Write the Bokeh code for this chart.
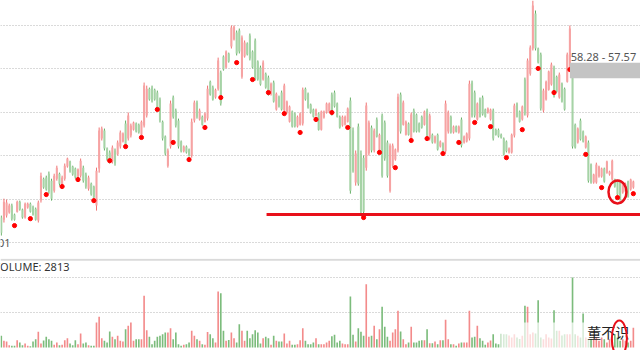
from bokeh.plotting import figure
from bokeh.layouts import column
from bokeh.models import ColumnDataSource, Range1d, FixedTicker, Span
from bokeh.core.properties import value
from bokeh.embed import file_html
from bokeh.resources import INLINE

highs = [51.24,52.02,51.98,51.79,51.79,51.33,51.93,51.93,51.56,51.84,51.84,51.84,51.70,51.61,51.93,53.22,52.99,53.08,53.27,52.94,
53.17,53.54,53.22,53.08,53.64,53.91,53.77,53.54,53.45,53.41,53.87,53.54,53.22,53.08,52.76,52.62,53.45,55.30,55.34,55.25,
54.38,54.24,54.47,54.33,54.70,55.16,55.07,55.62,55.99,55.48,55.57,55.53,55.48,55.62,57.37,57.23,57.14,57.23,57.09,57.00,
56.68,55.62,54.93,54.33,56.54,56.77,56.17,55.71,54.70,54.47,54.47,54.33,55.71,56.54,56.54,56.17,55.85,55.99,57.23,57.46,
57.23,57.09,58.52,57.92,58.62,58.85,58.75,60.00,60.00,59.77,59.86,59.54,59.31,59.22,59.63,58.85,59.40,58.39,58.15,58.39,
57.83,57.69,57.37,57.46,56.91,56.77,57.00,57.32,56.54,56.31,56.08,55.99,55.85,55.99,57.14,57.14,56.91,56.40,56.17,56.17,
55.99,56.08,56.08,56.45,56.45,56.91,57.00,56.45,55.85,55.85,55.85,56.22,56.68,55.30,54.24,55.48,54.24,54.01,56.45,55.62,
55.39,55.25,55.76,55.02,55.94,55.62,54.70,54.56,54.56,54.33,56.86,56.91,56.54,55.62,55.53,55.99,56.17,55.94,55.53,55.85,
56.08,56.17,55.94,55.02,54.93,55.02,54.70,54.61,56.54,56.08,55.85,55.39,55.39,55.39,55.76,54.93,55.07,57.46,57.46,57.00,
56.45,56.68,56.77,56.17,56.22,56.17,56.17,55.25,55.25,55.02,54.84,54.70,54.38,55.02,56.40,56.45,56.08,56.31,57.60,58.48,
59.08,61.15,60.69,58.98,58.75,57.09,57.46,57.92,58.29,58.15,57.69,57.83,57.37,57.14,58.75,60.00,57.92,55.48,55.30,55.71,
55.16,54.93,54.70,53.64,53.17,53.68,53.54,53.45,53.45,53.77,53.31,53.82,52.94,52.85,52.85,52.76,52.76,52.85,52.94,52.85]

lows = [50.32,50.92,51.15,51.33,51.01,51.01,51.38,51.47,51.10,51.10,51.56,51.38,51.24,51.01,50.92,51.84,52.48,52.39,52.25,51.93,
52.30,52.85,52.62,52.48,52.85,53.45,53.22,53.08,52.94,52.85,52.99,52.76,52.48,52.39,52.16,52.02,51.47,53.22,54.70,54.24,
53.77,53.64,53.64,53.54,54.01,54.33,54.61,54.38,54.70,54.84,55.16,55.07,55.02,54.93,55.30,55.76,56.54,56.45,56.54,56.08,
55.53,54.70,54.01,53.45,54.33,55.71,55.30,54.33,54.15,54.15,54.10,53.96,53.91,55.53,55.71,55.62,55.39,55.53,55.62,56.77,
56.54,56.63,57.00,56.31,57.92,58.02,58.29,58.94,59.31,58.62,58.71,57.55,58.52,58.62,58.39,58.02,57.46,57.46,57.23,57.46,
57.09,56.77,56.77,56.45,56.08,56.22,56.08,55.99,55.94,55.53,55.30,55.30,55.30,55.39,55.39,56.54,56.17,55.94,55.76,55.80,
55.16,55.16,55.71,55.94,55.99,55.85,56.22,55.76,55.25,55.34,55.39,55.53,52.25,53.22,52.62,52.62,51.33,51.33,53.31,54.01,
54.15,54.15,54.84,54.10,52.99,53.77,52.99,52.30,53.45,53.77,54.15,55.02,55.39,54.93,54.93,54.70,55.07,55.07,55.07,55.25,
55.39,54.84,54.70,54.56,54.56,54.24,54.38,54.10,54.10,55.02,55.02,55.02,55.07,55.02,54.38,54.56,54.61,54.70,55.76,55.76,
55.62,55.76,55.85,55.76,55.94,55.62,54.70,54.93,54.84,54.79,54.01,54.15,54.10,54.10,54.84,55.76,55.53,55.62,55.85,55.76,
57.69,58.85,58.85,58.25,56.08,55.99,56.54,57.00,57.23,56.68,56.91,56.63,56.45,56.08,57.37,57.92,54.33,54.33,54.56,54.70,
54.61,54.33,52.76,52.71,52.71,52.71,52.99,52.99,52.76,53.17,53.08,52.85,52.53,52.16,51.93,52.25,52.30,52.07,52.39,52.48]

opens = [51.15,51.05,51.24,51.38,51.70,51.29,51.42,51.88,51.52,51.15,51.61,51.79,51.65,51.56,51.01,51.93,52.94,52.99,53.17,52.85,
52.39,52.94,53.17,52.58,52.94,53.50,53.73,53.50,53.41,52.90,53.08,53.45,53.13,52.48,52.71,52.58,51.70,53.41,54.79,55.16,
54.33,54.15,53.73,54.24,54.06,54.42,54.65,55.48,54.79,54.93,55.20,55.48,55.43,54.97,55.39,55.85,57.09,57.14,57.04,56.91,
56.59,55.57,54.88,53.54,54.42,56.68,56.08,55.62,54.65,54.20,54.42,54.29,54.01,55.62,56.45,55.67,55.80,55.57,55.71,57.41,
57.14,56.68,57.09,57.83,58.57,58.06,58.71,59.03,59.36,59.68,59.77,57.64,58.57,59.17,59.54,58.80,59.31,58.34,58.06,57.51,
57.78,57.60,56.82,57.37,56.13,56.72,56.91,56.08,55.99,55.57,56.04,55.94,55.34,55.43,55.48,57.09,56.86,56.36,56.13,55.85,
55.94,55.20,55.76,55.99,56.04,56.82,56.91,56.40,55.80,55.39,55.43,55.57,56.54,55.16,52.76,55.34,54.10,53.91,53.45,54.10,
55.30,54.24,55.67,54.15,55.85,55.53,54.61,52.39,53.54,53.82,54.24,56.82,55.43,54.97,55.48,54.79,56.08,55.90,55.48,55.80,
55.43,56.08,54.79,54.97,54.61,54.97,54.42,54.56,54.20,55.11,55.80,55.07,55.34,55.07,55.67,54.61,54.65,54.79,57.37,56.91,
55.67,56.59,56.68,56.13,55.99,55.67,56.08,55.20,55.20,54.97,54.79,54.65,54.15,54.15,54.93,56.40,56.04,55.67,57.51,55.85,
57.78,58.94,60.55,58.94,58.66,56.08,56.59,57.04,57.28,58.06,57.64,56.68,57.32,57.09,57.41,57.97,57.83,55.43,54.61,55.62,
55.11,54.38,54.61,53.59,52.76,52.76,53.04,53.04,53.41,53.22,53.13,52.90,52.90,52.81,52.76,52.30,52.35,52.81,52.44,52.53]

closes = [50.45,51.88,51.84,51.70,51.10,51.05,51.88,51.52,51.15,51.79,51.79,51.42,51.29,51.05,51.84,53.08,52.53,52.44,52.35,52.02,
53.08,53.45,52.71,52.99,53.54,53.87,53.27,53.13,52.99,53.36,53.77,52.85,52.58,52.99,52.21,52.07,53.31,55.16,55.25,54.33,
53.82,53.73,54.38,53.64,54.61,55.07,55.02,54.47,55.85,55.39,55.53,55.11,55.07,55.57,57.23,57.09,56.59,56.50,56.59,56.17,
55.62,54.79,54.10,54.24,56.40,55.80,55.39,54.42,54.20,54.42,54.15,54.01,55.57,56.45,55.80,56.08,55.43,55.94,57.09,56.82,
56.59,57.04,58.39,56.40,57.97,58.80,58.34,59.91,59.95,58.71,58.80,59.45,59.22,58.66,58.48,58.06,57.55,57.51,57.28,58.29,
57.14,56.82,57.32,56.50,56.86,56.27,56.13,57.23,56.50,56.27,55.34,55.34,55.80,55.94,57.04,56.59,56.22,55.99,55.80,56.13,
55.20,56.04,56.04,56.40,56.40,55.90,56.27,55.80,55.30,55.80,55.80,56.17,52.39,53.31,54.10,52.71,51.47,51.42,56.31,55.53,
54.24,55.16,54.88,54.97,53.08,53.87,53.08,54.47,54.47,54.29,56.72,55.11,56.45,55.57,54.97,55.90,55.11,55.11,55.11,55.30,
56.04,54.93,55.85,54.61,54.88,54.29,54.65,54.15,56.40,55.99,55.07,55.34,55.11,55.34,54.47,54.88,55.02,57.32,55.85,55.85,
56.40,55.80,55.90,55.80,56.17,56.13,54.79,54.97,54.88,54.84,54.06,54.20,54.33,54.97,56.31,55.80,55.57,56.27,55.94,58.39,
58.99,60.92,58.94,58.29,56.17,57.00,57.41,57.88,58.20,56.77,56.95,57.74,56.50,56.13,58.66,59.86,54.42,54.38,55.25,54.75,
54.65,54.88,52.85,52.76,53.13,53.59,53.50,53.41,52.81,53.73,53.27,53.77,52.58,52.21,52.02,52.71,52.71,52.12,52.90,52.81]

volumes = [1670,950,860,330,240,240,1050,710,330,570,240,190,860,1190,2240,570,1000,1520,1190,950,
380,710,330,400,1050,1330,570,330,1050,480,2000,570,710,330,240,240,3570,4380,1330,950,
710,2290,1520,1190,1670,950,860,2620,3100,3570,950,1190,1190,1190,7380,2470,1520,480,950,1520,
1670,1900,2140,2140,2760,1190,2140,480,240,400,480,710,2380,1670,1190,950,480,400,2230,1900,
1330,710,8000,7760,2380,950,1070,2140,1330,710,3330,2380,950,2380,1330,1900,2470,2140,570,1330,
1520,1330,380,1670,950,860,860,2000,570,950,380,400,480,1050,2760,950,480,480,710,1330,
480,480,480,710,950,1620,1810,710,950,570,480,480,7290,1810,860,2760,2240,1670,9050,1520,
1670,3100,1190,2620,5810,2950,1520,950,2140,2620,5240,2290,1190,480,710,2950,710,710,950,1050,
1050,2620,600,620,860,480,1050,1050,3950,1190,480,480,240,570,710,710,710,5240,1430,1520,
3100,1330,950,380,710,1000,1900,570,480,1950,1900,1900,1700,1430,1900,1430,1200,1670,5950,5810,
1900,2140,2000,6760,1430,1190,1900,1430,1300,5330,2380,2380,1700,1900,1900,1900,10000,1900,1670,1430,
4860,1430,1200,1200,1190,1430,950,1430,1190,710,1190,1670,1900,1430,950,1190,950,710,950,2813]

dot_idx = [5,11,17,23,29,35,41,47,53,59,65,71,77,83,89,95,101,107,113,119,
125,131,137,143,149,155,161,167,173,179,185,191,197,203,209,215,221,227,233,239]
dot_vals = [50.78,51.10,52.21,52.58,52.90,51.93,53.77,54.42,54.84,56.13,54.61,53.82,55.30,56.68,58.29,57.51,56.91,55.94,55.07,55.67,
55.99,55.30,51.15,54.15,53.45,54.70,54.79,54.10,54.61,55.53,55.34,53.91,55.20,58.02,56.91,57.97,54.06,52.53,52.07,52.25]

price_ticks = [50, 52, 54, 56, 58, 60]
zone_high, zone_low = 58.28, 57.57
zone_label = "58.28 - 57.57"
support_level = 51.29
volume_ticks = [5000, 10000]
last_volume = 2813

n = len(highs)
assert len(lows) == n and len(opens) == n and len(closes) == n and len(volumes) == n

idx = list(range(n))
up = [c >= o for o, c in zip(opens, closes)]
wick_col = ["#f07272" if u else "#62ad62" for u in up]
body_col = ["#f6a3a3" if u else "#a6d3a6" for u in up]
vol_col = ["#f38b8b" if u else "#7cbc7c" for u in up]

src = ColumnDataSource(dict(
    x=idx, h=highs, l=lows,
    top=[max(o, c) for o, c in zip(opens, closes)],
    bot=[min(o, c) for o, c in zip(opens, closes)],
    wc=wick_col, bc=body_col, vc=vol_col, v=volumes,
))

FONT = value("Noto Sans")
xr = Range1d(-0.3, 241.7)

p = figure(width=640, height=258, x_range=xr, y_range=Range1d(49.263, 61.152),
           output_backend="svg", toolbar_location=None, min_border=0,
           background_fill_color="white", border_fill_color="white")
p.outline_line_color = None
p.xaxis.visible = False
p.yaxis.visible = False
p.xgrid.visible = False
p.ygrid.ticker = FixedTicker(ticks=price_ticks)
p.ygrid.grid_line_color = "#b4b4b4"
p.ygrid.grid_line_dash = "1 2"
p.ygrid.grid_line_width = 1

p.segment(x0="x", y0="l", x1="x", y1="h", color="wc", line_width=1, source=src)
p.vbar(x="x", top="top", bottom="bot", width=0.78, fill_color="bc", line_color=None, source=src)

p.scatter(dot_idx, dot_vals, size=4.2, color="#ff0000", marker="circle")

# price zone box and its label
p.quad(left=[215], right=[250], top=[zone_high], bottom=[zone_low],
       fill_color="#c4c4c4", line_color=None)
p.text(x=[215.3], y=[58.55], text=[zone_label], text_font=FONT, text_font_size="11px",
       text_color="#555555", text_baseline="middle", text_align="left")

# support line
p.line([100.3, 250], [support_level, support_level], line_color="#e8101a", line_width=3)

# annotation circle
p.ellipse(x=[233.0], y=[52.33], width=6.8, height=1.06, fill_color=None,
          line_color="#e8101a", line_width=2.5)

p.text(x=[3.5], y=[50.0], text=["50.01"], text_font=FONT, text_font_size="11px",
       text_color="#555555", text_baseline="middle", text_align="right")

v = figure(width=640, height=92, x_range=xr, y_range=Range1d(-428, 12714),
           output_backend="svg", toolbar_location=None, min_border=0,
           background_fill_color="white", border_fill_color="white")
v.outline_line_color = None
v.xaxis.visible = False
v.yaxis.visible = False
v.xgrid.visible = False
v.ygrid.ticker = FixedTicker(ticks=volume_ticks)
v.ygrid.grid_line_color = "#b4b4b4"
v.ygrid.grid_line_dash = "1 2"

v.vbar(x="x", top="v", bottom=0, width=0.62, fill_color="vc", line_color=None, source=src)
v.add_layout(Span(location=12520, dimension="width", line_color="#dadada", line_width=2))
v.text(x=[-2.9], y=[11571], text=["VOLUME: %d" % last_volume], text_font=FONT,
       text_font_size="11px", text_color="#333333", text_baseline="middle", text_align="left")

# blurred watermark band
v.quad(left=[188.7], right=[222.5], top=[3570], bottom=[-428], fill_color="white",
       fill_alpha=0.7, line_color=None)
v.text(x=[221.6], y=[2286], text=["董不识"], text_font=value("Noto Sans CJK SC"),
       text_font_size="14px", text_color="#222222", text_baseline="middle", text_align="left")
v.ellipse(x=[233.7], y=[1286], width=5.7, height=5143, fill_color=None,
          line_color="#e8101a", line_width=2)

layout = column(p, v, spacing=0)
open("out.html", "w").write(file_html(layout, INLINE))
